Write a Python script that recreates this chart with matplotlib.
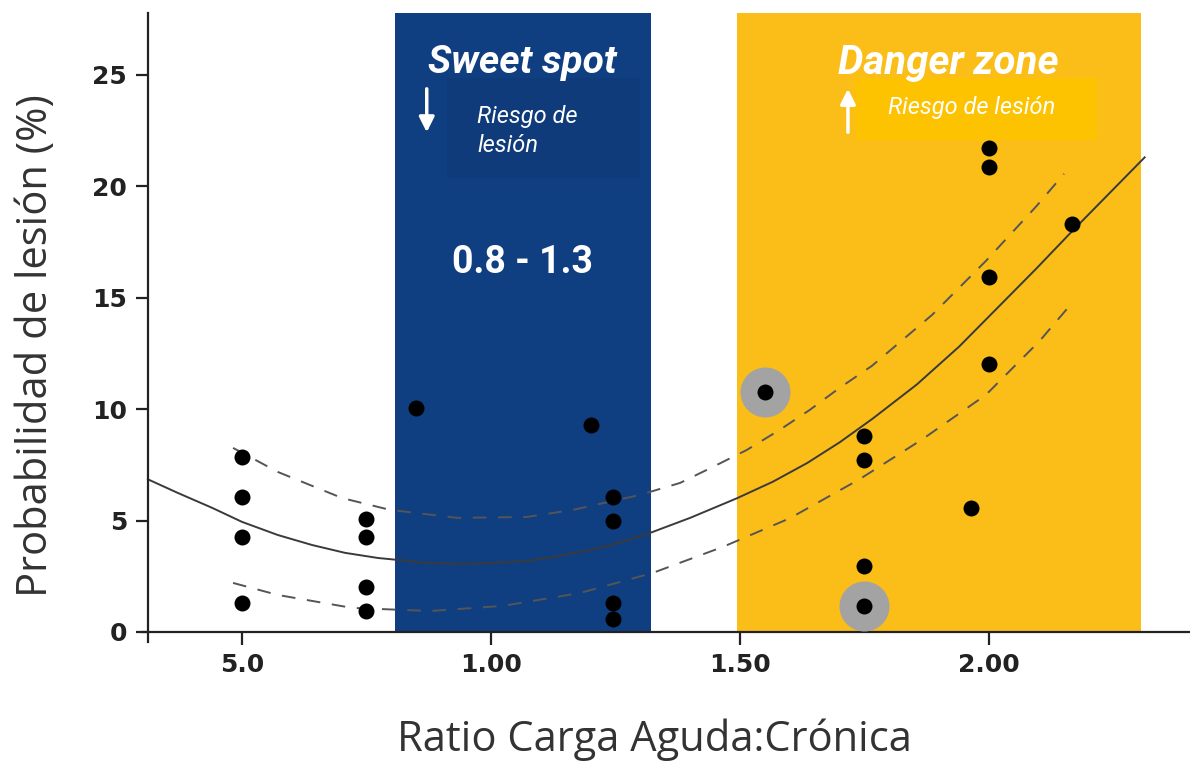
"""Probabilidad de lesión vs ratio carga aguda:crónica."""

import matplotlib
matplotlib.use("Agg")
import matplotlib.pyplot as plt


# puntos de datos (x = ratio, y = probabilidad %)
PTS_X = [0.50, 0.50, 0.50, 0.50,
         0.75, 0.75, 0.75, 0.75,
         0.85, 1.20,
         1.245, 1.245, 1.245, 1.245,
         1.55,
         1.75, 1.75, 1.75, 1.75,
         1.964,
         2.00, 2.00, 2.00, 2.00,
         2.167]
PTS_Y = [7.87, 6.07, 4.28, 1.32,
         5.07, 4.25, 2.03, 0.96,
         10.05, 9.29,
         6.05, 5.00, 1.32, 0.57,
         10.77,
         8.80, 7.72, 2.96, 1.17,
         5.57,
         21.70, 20.87, 15.95, 12.03,
         18.33]
# puntos resaltados (halo gris)
HALO_X = [1.55, 1.75]
HALO_Y = [10.77, 1.17]

# curva ajustada y bandas de confianza
FIT_X = [0.311, 0.371, 0.440, 0.500, 0.572, 0.641, 0.707, 0.773, 0.873,
         0.942, 1.008, 1.074, 1.130, 1.199, 1.260, 1.319, 1.400, 1.494,
         1.566, 1.635, 1.701, 1.767, 1.855, 1.940, 2.022, 2.095, 2.167,
         2.240, 2.313]
FIT_Y = [6.85, 6.24, 5.57, 4.94, 4.35, 3.90, 3.55, 3.32, 3.10,
         3.05, 3.10, 3.19, 3.38, 3.68, 4.02, 4.44, 5.12, 6.00,
         6.74, 7.58, 8.52, 9.58, 11.10, 12.80, 14.65, 16.30, 17.98,
         19.64, 21.30]

UP_X = [0.482, 0.572, 0.701, 0.797, 0.932, 1.072, 1.165, 1.299, 1.380,
        1.446, 1.514, 1.580, 1.640, 1.700, 1.765, 1.886, 1.994, 2.096,
        2.151]
UP_Y = [8.26, 7.18, 6.01, 5.48, 5.12, 5.16, 5.48, 6.15, 6.69,
        7.41, 8.17, 9.07, 9.96, 10.95, 11.94, 14.23, 16.65, 19.12,
        20.56]

LO_X = [0.482, 0.572, 0.721, 0.878, 1.024, 1.179, 1.325, 1.466, 1.600,
        1.740, 1.866, 1.994, 2.102, 2.157]
LO_Y = [2.20, 1.66, 1.08, 0.94, 1.17, 1.75, 2.65, 3.82, 5.10,
        6.85, 8.64, 10.64, 13.06, 14.50]

X_TICKS = [0.5, 1.0, 1.5, 2.0]
X_TICK_LABELS = ["5.0", "1.00", "1.50", "2.00"]
Y_TICKS = [0, 5, 10, 15, 20, 25]

BLUE = "#103f81"
BLUE_DARK = "#0f3b7a"
YELLOW = "#fbbd18"
YELLOW_IN = "#fdc200"
TXT_FONT = ["Roboto", "DejaVu Sans"]
LAB_FONT = ["Open Sans", "DejaVu Sans"]


fig = plt.figure(figsize=(11.9, 7.62), dpi=100)
ax = fig.add_axes([0.1197, 0.1575, 0.8803, 0.8255])
ax.set_xlim(0.30, 2.404)
ax.set_ylim(-0.45, 27.78)

# zonas
y0 = 0.45 / 28.23
ax.axvspan(0.807, 1.321, ymin=y0, ymax=1, color=BLUE, lw=0, zorder=0)
ax.axvspan(1.494, 2.305, ymin=y0, ymax=1, color=YELLOW, lw=0, zorder=0)
ax.add_patch(plt.Rectangle((0.912, 20.38), 0.387, 4.49, color=BLUE_DARK, lw=0, zorder=0.5))
ax.add_patch(plt.Rectangle((1.731, 22.08), 0.486, 2.79, color=YELLOW_IN, lw=0, zorder=0.5))

# curvas
ax.plot(FIT_X, FIT_Y, color="#3a3a3a", lw=1.4, zorder=2)
ax.plot(UP_X, UP_Y, color="#555555", lw=1.4, ls=(0, (7, 6)), zorder=2)
ax.plot(LO_X, LO_Y, color="#555555", lw=1.4, ls=(0, (7, 6)), zorder=2)

# puntos
ax.plot(HALO_X, HALO_Y, "o", ms=36, color="#a3a3a3", mec="none", zorder=3)
ax.plot(PTS_X, PTS_Y, "o", ms=11.5, color="black", mec="none", zorder=4)

# textos de zonas
ax.text(1.064, 25.55, "Sweet spot", color="white", fontsize=28, fontweight="bold",
        fontstyle="italic", ha="center", va="center", family=TXT_FONT, zorder=5)
ax.text(1.918, 25.55, "Danger zone", color="white", fontsize=29, fontweight="bold",
        fontstyle="italic", ha="center", va="center", family=TXT_FONT, zorder=5)
ax.text(0.972, 22.49, "Riesgo de\nlesión", color="white", fontsize=17,
        fontstyle="italic", ha="left", va="center", linespacing=1.3,
        family=TXT_FONT, zorder=5)
ax.text(1.797, 23.52, "Riesgo de lesión", color="white", fontsize=17,
        fontstyle="italic", ha="left", va="center", family=TXT_FONT, zorder=5)
ax.text(1.064, 16.6, "0.8 - 1.3", color="white", fontsize=27, fontweight="bold",
        ha="center", va="center", family=TXT_FONT, zorder=5)
ax.annotate("", xy=(0.871, 22.3), xytext=(0.871, 24.5),
            arrowprops=dict(arrowstyle="-|>,head_width=0.45,head_length=0.9",
                            color="white", lw=2.5), zorder=5)
ax.annotate("", xy=(1.717, 24.5), xytext=(1.717, 22.3),
            arrowprops=dict(arrowstyle="-|>,head_width=0.45,head_length=0.9",
                            color="white", lw=2.5), zorder=5)

# ejes
for s in ["top", "right"]:
    ax.spines[s].set_visible(False)
ax.spines["bottom"].set_position(("data", 0))
ax.spines["left"].set_position(("data", 0.311))
for s in ["bottom", "left"]:
    ax.spines[s].set_linewidth(1.6)
    ax.spines[s].set_color("#222222")

ax.set_xticks(X_TICKS)
ax.set_xticklabels(X_TICK_LABELS)
ax.set_yticks(Y_TICKS)
ax.tick_params(axis="both", direction="out", length=9, width=1.6, color="#222222",
               labelsize=18, pad=6)
for lab in ax.get_xticklabels() + ax.get_yticklabels():
    lab.set_fontweight("bold")
    lab.set_color("#222222")

fig.text(0.030, 0.547, "Probabilidad de lesión (%)", rotation=90, fontsize=30,
         ha="center", va="center", color="#333333", family=LAB_FONT)
fig.text(0.550, 0.029, "Ratio Carga Aguda:Crónica", fontsize=30,
         ha="center", va="center", color="#333333", family=LAB_FONT)

fig.savefig("out.png", dpi=100)
